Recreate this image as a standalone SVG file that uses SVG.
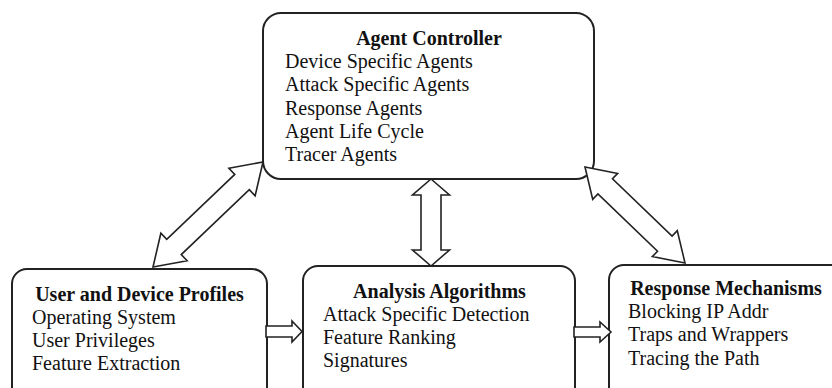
<svg xmlns="http://www.w3.org/2000/svg" width="832" height="388" viewBox="0 0 832 388">
<style>
.box{fill:#fff;stroke:#222;stroke-width:2}
.arr{fill:#fff;stroke:#222;stroke-width:1.6;stroke-linejoin:miter}
text{font-family:"Liberation Serif","Times New Roman",serif;font-size:20px;fill:#111}
.t{font-weight:bold;text-anchor:middle}
</style>
<rect width="832" height="388" fill="#fff"/>
<g id="agent-controller">
<rect class="box" x="263" y="13" width="331" height="166" rx="18"/>
<text class="t" x="429" y="45">Agent Controller</text>
<text x="285" y="68.2">Device Specific Agents</text>
<text x="285" y="91.4">Attack Specific Agents</text>
<text x="285" y="114.6">Response Agents</text>
<text x="285" y="137.8">Agent Life Cycle</text>
<text x="285" y="161">Tracer Agents</text>
</g>
<g id="user-device-profiles">
<rect class="box" x="12" y="269" width="255" height="135" rx="15"/>
<text class="t" x="139.5" y="300.7">User and Device Profiles</text>
<text x="32" y="323.7">Operating System</text>
<text x="32" y="346.7">User Privileges</text>
<text x="32" y="369.7">Feature Extraction</text>
</g>
<g id="analysis-algorithms">
<rect class="box" x="303" y="266" width="272" height="138" rx="15"/>
<text class="t" x="439.5" y="297.6">Analysis Algorithms</text>
<text x="323" y="320.6">Attack Specific Detection</text>
<text x="323" y="343.6">Feature Ranking</text>
<text x="323" y="366.6">Signatures</text>
</g>
<g id="response-mechanisms">
<rect class="box" x="609" y="265" width="240" height="139" rx="15"/>
<text class="t" x="726" y="295">Response Mechanisms</text>
<text x="628" y="318.2">Blocking IP Addr</text>
<text x="628" y="341.4">Traps and Wrappers</text>
<text x="628" y="364.6">Tracing the Path</text>
</g>
<g id="connectors">
<polygon class="arr" points="153,267 187.1,260.72 181.23,254.58 249.27,189.62 255.14,195.76 263,162 228.9,168.28 234.77,174.42 166.73,239.38 160.86,233.24"/>
<polygon class="arr" points="431,179 449.5,195 441,195 441,250 449.5,250 431,266 412.5,250 421,250 421,195 412.5,195"/>
<polygon class="arr" points="585,167 592.73,199.38 597.93,193.97 657.53,251.19 652.33,256.6 685,263 677.27,230.62 672.07,236.03 612.47,178.81 617.67,173.4"/>
<polygon class="arr" points="266,326 292,326 292,321 302,331.5 292,342 292,337 266,337"/>
<polygon class="arr" points="574,327 600,327 600,322 611,332 600,342 600,337 574,337"/>
</g>
</svg>
